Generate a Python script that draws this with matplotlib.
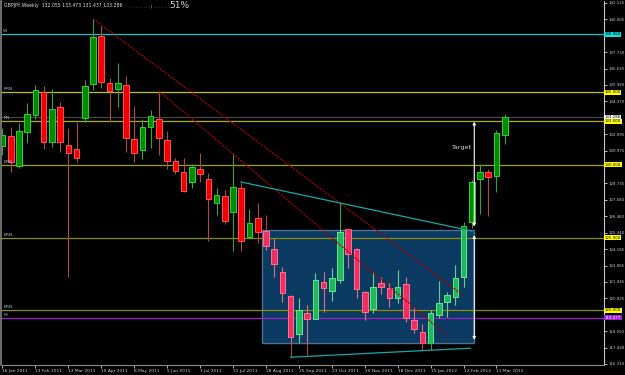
import numpy as np
import pandas as pd
import matplotlib
matplotlib.use('Agg')
import matplotlib.pyplot as plt
from matplotlib.patches import Rectangle

# weekly GBPJPY candles, 16 Jan 2011 .. 18 Mar 2012
weeks = pd.date_range('2011-01-16', periods=62, freq='7D')
opens = [131.30, 132.00, 129.92, 132.24, 133.43, 135.03, 131.55, 133.96, 131.36, 131.07,
         133.20, 135.54, 138.88, 135.65, 135.21, 135.47, 131.78, 131.00, 132.62, 133.15,
         131.69, 130.26, 129.49, 128.80, 129.69, 129.01, 127.36, 127.86, 126.74, 128.39,
         125.02, 126.33, 125.45, 124.22, 122.61, 120.98, 118.35, 119.80, 119.42, 121.93,
         121.35, 122.06, 125.57, 124.22, 121.28, 120.11, 121.86, 121.51, 120.83, 121.79,
         119.31, 118.53, 117.73, 119.66, 120.59, 120.94, 122.27, 126.09, 129.03, 129.49,
         129.25, 132.055]
highs = [132.53, 132.62, 132.86, 134.23, 135.49, 135.44, 135.21, 134.34, 132.51, 132.97,
         135.83, 140.03, 139.54, 135.95, 136.98, 136.11, 134.04, 133.15, 133.77, 135.08,
         132.33, 130.45, 130.45, 130.04, 130.83, 129.42, 128.39, 128.27, 130.81, 128.82,
         126.94, 127.34, 126.55, 124.99, 122.96, 121.05, 120.83, 120.35, 122.55, 122.65,
         122.89, 127.40, 125.64, 124.26, 121.30, 122.65, 122.27, 121.86, 122.77, 122.27,
         120.25, 119.06, 120.02, 122.02, 121.28, 123.12, 126.09, 128.96, 130.06, 129.69,
         132.40, 133.473]
lows = [130.68, 129.49, 129.76, 131.48, 133.15, 131.07, 131.21, 130.86, 122.29, 130.18,
        132.97, 135.15, 135.26, 132.97, 134.00, 130.90, 130.22, 130.38, 131.18, 130.68,
        129.71, 129.35, 128.15, 128.39, 128.84, 124.79, 126.55, 125.93, 124.08, 124.08,
        125.00, 124.63, 124.15, 122.27, 120.59, 116.77, 117.73, 116.93, 119.40, 119.91,
        120.64, 121.86, 122.93, 120.83, 119.33, 119.84, 121.12, 120.25, 120.48, 119.22,
        118.46, 117.27, 117.27, 119.45, 119.56, 120.37, 121.58, 125.64, 126.62, 126.48,
        128.11, 131.437]
closes = [132.05, 130.22, 132.35, 133.47, 135.12, 131.59, 133.82, 131.55, 130.81, 130.45,
          135.42, 138.81, 135.67, 135.08, 135.63, 131.87, 130.79, 132.58, 133.34, 131.82,
          130.28, 129.56, 128.22, 129.82, 129.35, 127.63, 127.93, 126.11, 128.50, 124.77,
          125.98, 125.36, 124.44, 123.16, 121.17, 118.15, 120.00, 119.38, 122.08, 121.56,
          122.20, 125.36, 123.89, 121.45, 119.91, 121.58, 121.58, 120.83, 121.62, 119.45,
          118.70, 117.77, 119.80, 120.52, 121.05, 122.20, 125.80, 128.82, 129.49, 129.19,
          132.17, 133.286]

# right axis scale
yticks = [141.125, 140.005, 137.730, 136.610, 135.490, 134.370, 132.095, 130.975,
          128.735, 127.580, 126.460, 125.340, 124.185, 123.065, 121.945, 120.825,
          118.550, 117.430, 116.310]

# horizontal levels
level_names = ['W', 'RRN', 'RN', 'BRN', 'BRN', 'BRN', 'M']
level_prices = [138.96, 135.0, 133.0, 130.0, 125.0, 120.0, 119.477]
level_labels = ['138.960', '135.000', '133.000', '130.000', '125.000', '120.000', '119.477']
level_colors = ['#10c4c4', '#c0c000', '#b0b000', '#a0a000', '#8c8c00', '#8c8c00', '#9a1fc8']
label_bg = ['#10e0e0', '#ffff00', '#ffff00', '#ffff00', '#ffff00', '#ffff00', '#a020e0']
label_fg = ['black', 'black', 'black', 'black', 'black', 'black', 'white']
last_price = 133.286

# drawn objects (week index, price)
lineA_x, lineA_y = [11, 55.9], [140.03, 121.05]
lineB_x, lineB_y = [19, 53.9], [135.08, 118.30]
cyan_up_x, cyan_up_y = [28.95, 57.0], [128.82, 125.45]
cyan_low_x, cyan_low_y = [35, 56.8], [116.77, 117.39]
box_x, box_y = [31.5, 57.3], [117.72, 125.52]
arrow_x = 57.3
arrow_low = [117.96, 125.17]
arrow_high = [125.75, 132.97]

fig = plt.figure(figsize=(6.25, 3.75), dpi=100, facecolor='black')
ax = fig.add_axes([1.5 / 625, 10 / 375, 602.5 / 625, 364 / 375], facecolor='black')
ax.set_xlim(-0.12, 73.06)
ax.set_ylim(116.237, 141.26)

idx = np.arange(len(weeks))
o = np.array(opens); h = np.array(highs); l = np.array(lows); c = np.array(closes)
bull = c >= o


def draw_candles(bull_fc, bull_ec, bull_wick, bear_fc, bear_ec, bear_wick, z, clip=None):
    arts = []
    for i in idx:
        up = bull[i]
        wc = bull_wick if up else bear_wick
        ln, = ax.plot([i, i], [l[i], h[i]], color=wc, lw=0.8, zorder=z,
                      solid_capstyle='butt')
        arts.append(ln)
        lo, hi = min(o[i], c[i]), max(o[i], c[i])
        r = Rectangle((i - 0.34, lo), 0.68, max(hi - lo, 0.05),
                      facecolor=bull_fc if up else bear_fc,
                      edgecolor=bull_ec if up else bear_ec, lw=0.7, zorder=z + 0.1)
        ax.add_patch(r)
        arts.append(r)
    if clip is not None:
        for a in arts:
            a.set_clip_path(clip)


# box behind candles
box = Rectangle((box_x[0], box_y[0]), box_x[1] - box_x[0], box_y[1] - box_y[0],
                facecolor='#0b3a62', edgecolor='#4f6f8f', lw=1.0, zorder=1)
ax.add_patch(box)

trans = ax.get_yaxis_transform()
for name, p, col in zip(level_names, level_prices, level_colors):
    ax.axhline(p, color=col, lw=0.9, zorder=1.5)
    ax.text(0.003, p + 0.07, name, transform=trans, fontsize=3.2, color='#a8b0c8',
            va='bottom', ha='left', zorder=5)
ax.axhline(last_price, color='#4a4a4a', lw=0.8, zorder=1.4)

draw_candles('#008a00', '#2ed22e', '#3c9c3c', '#f20000', '#ff5050', '#a84848', 2)
clip_rect = Rectangle((box_x[0], box_y[0]), box_x[1] - box_x[0], box_y[1] - box_y[0],
                      transform=ax.transData, fill=False)
draw_candles('#20b85a', '#60e494', '#6cc890', '#ea3060', '#ff7094', '#d07090', 2.5,
             clip=clip_rect)

# trend lines
ax.plot(lineA_x, lineA_y, color='#b00000', lw=0.8, ls=(0, (2, 1)), zorder=3)
ax.plot(lineB_x, lineB_y, color='#b00000', lw=0.8, ls=(0, (2, 1)), zorder=3)
ax.plot(cyan_up_x, cyan_up_y, color='#16a8a8', lw=0.9, zorder=3)
ax.plot(cyan_low_x, cyan_low_y, color='#16a8a8', lw=0.9, zorder=3)

# measured move arrows
for a, b in (arrow_low, arrow_high):
    ax.annotate('', xy=(arrow_x, b), xytext=(arrow_x, a),
                arrowprops=dict(arrowstyle='<|-|>', color='white', lw=0.8,
                                mutation_scale=4, shrinkA=0, shrinkB=0), zorder=4)
ax.text(arrow_x - 0.4, 131.18, 'Target', fontsize=4.6, color='#d8d8d8',
        ha='right', va='center', zorder=5)

# axes styling
ax.spines['top'].set_visible(False)
ax.spines['left'].set_color('#808080')
ax.spines['left'].set_linewidth(1.2)
ax.spines['bottom'].set_color('#8a8a8a')
ax.spines['right'].set_color('#c8c8c8')

ax.yaxis.tick_right()
ax.set_yticks(yticks)
ax.set_yticklabels([f'{v:.3f}' for v in yticks])
ax.tick_params(axis='y', colors='#d0d0d0', labelsize=2.8, length=2, width=0.6, pad=1.2)

xt = idx[::4]
ax.set_xticks(xt)
ax.set_xticklabels([f"{d.day} {d.strftime('%b %Y')}" for d in weeks[::4]])
ax.tick_params(axis='x', colors='#d0d0d0', labelsize=3.2, length=2, width=0.6, pad=1)
for t in ax.get_xticklabels():
    t.set_ha('left')

# coloured price labels on the right axis
for p, txt, bg, fg in zip(level_prices, level_labels, label_bg, label_fg):
    ax.text(1.0015, p, txt, transform=trans, fontsize=2.8, color=fg, va='center', ha='left',
            bbox=dict(boxstyle='square,pad=0.12', fc=bg, ec='none'), zorder=6, clip_on=False)
ax.text(1.0015, last_price, f'{last_price:.3f}', transform=trans, fontsize=2.8, color='black',
        va='center', ha='left', bbox=dict(boxstyle='square,pad=0.12', fc='white', ec='none'),
        zorder=6, clip_on=False)

# header
fig.text(4 / 625, 1 - 6 / 375,
         f'GBPJPY,Weekly  {opens[-1]:.3f} {highs[-1]:.3f} {lows[-1]:.3f} {closes[-1]:.3f}',
         fontsize=3.3, color='#e0e0e0', va='center', ha='left')
fig.text(131 / 625, 1 - 6 / 375, '. . . . . . . . | . . . . . . .', fontsize=3, color='#d0d0d0',
         va='center', ha='left')
fig.text(169 / 625, 1 - 6 / 375, '51%', fontsize=6.5, color='#d0d0d0', va='center', ha='left')

fig.savefig('out.png', dpi=100, facecolor='black')
